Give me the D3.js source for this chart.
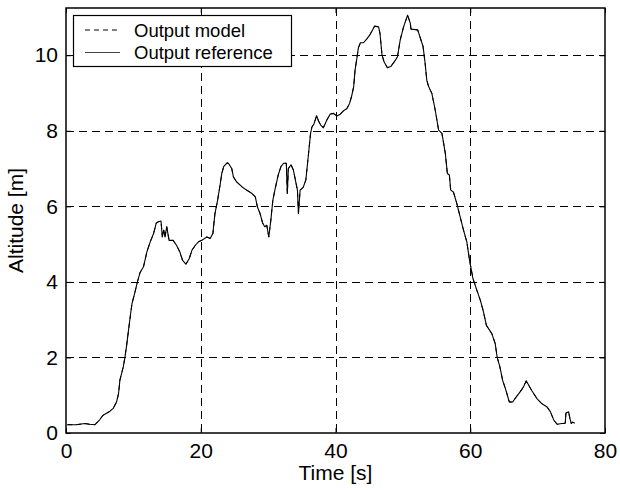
<!DOCTYPE html>
<html>
<head>
<meta charset="utf-8">
<script src="https://cdn.jsdelivr.net/npm/d3@7"></script>
<style>
  html, body { margin: 0; padding: 0; background: #fff; }
  svg text { font-family: "Liberation Sans", Arial, sans-serif; fill: #000; }
</style>
</head>
<body>
<svg id="chart" width="620" height="490"></svg>
<script>
"use strict";

// time [s] and altitude [m]
const timeSec = [
    0.2, 1.5, 2.8, 3.5, 4.3, 5.0, 5.5, 6.4, 7.0, 7.5, 7.8, 8.0, 8.5, 8.75, 9.0, 9.25, 9.6, 9.8,
    10.2, 10.6, 11.0, 11.5, 12.0, 12.5, 13.0, 13.4, 13.7, 14.1, 14.3, 14.5, 14.7, 14.95, 15.3,
    15.9, 16.4, 16.9, 17.3, 17.8, 18.3, 18.7, 19.2, 19.65, 20.15, 20.9, 21.4, 21.8, 22.1, 22.5,
    22.9, 23.1, 23.4, 23.9, 24.1, 24.6, 24.85, 25.3, 26.1, 26.8, 27.6, 28.1, 28.4, 28.8, 29.2,
    29.5, 29.8, 30.1, 30.4, 30.7, 31.0, 31.5, 31.9, 32.3, 32.7, 32.85, 33.0, 33.4, 33.75, 34.1,
    34.35, 34.5, 34.75, 35.2, 35.6, 36.0, 36.3, 36.5, 36.8, 37.2, 37.5, 37.8, 38.2, 38.7, 39.2,
    39.7, 40.2, 40.7, 41.2, 41.7, 42.1, 42.4, 42.7, 42.9, 43.2, 43.4, 43.7, 44.15, 44.6, 45.1,
    45.5, 45.8, 46.4, 46.6, 46.9, 47.2, 47.7, 48.2, 48.9, 49.2, 49.6, 50.1, 50.45, 50.7, 51.1,
    51.2, 52.2, 52.6, 53.0, 53.3, 53.55, 53.8, 54.3, 54.8, 55.3, 55.8, 56.3, 56.6, 56.9, 57.1,
    57.5, 58.0, 58.5, 59.0, 59.5, 59.9, 60.4, 60.9, 61.5, 61.9, 62.4, 63.2, 63.7, 64.0, 64.4,
    64.8, 65.3, 65.8, 66.3, 66.8, 67.4, 67.9, 68.3, 68.6, 69.1, 69.9, 70.6, 71.4, 71.9, 72.4,
    72.9, 73.6, 74.1, 74.2, 74.6, 74.8, 75.0, 75.2, 75.5
];
const altReference = [
    0.22, 0.22, 0.25, 0.23, 0.22, 0.35, 0.47, 0.56, 0.65, 0.82, 1.04, 1.40, 1.75, 2.01, 2.32, 2.68, 3.17, 3.43,
    3.70, 4.0, 4.25, 4.40, 4.79, 5.06, 5.28, 5.56, 5.59, 5.61, 5.19, 5.37, 5.19, 5.46, 5.1,
    5.1, 4.97, 4.79, 4.57, 4.47, 4.62, 4.84, 4.97, 5.06, 5.10, 5.19, 5.15, 5.28, 5.80, 6.16,
    6.60, 6.85, 7.05, 7.15, 7.14, 7.0, 6.78, 6.65, 6.52, 6.43, 6.34, 6.25, 5.99, 5.81, 5.55,
    5.46, 5.50, 5.19, 5.63, 6.16, 6.43, 6.83, 7.05, 7.14, 7.14, 6.34, 7.0, 7.10, 6.96, 6.65,
    6.43, 5.81, 6.43, 6.50, 6.70, 7.40, 7.93, 8.10, 8.18, 8.40, 8.25, 8.15, 8.08, 8.28, 8.44,
    8.46, 8.39, 8.44, 8.53, 8.59, 8.73, 8.92, 9.17, 9.60, 9.95, 10.2, 10.33, 10.33, 10.42, 10.54,
    10.67, 10.77, 10.75, 10.58, 10.01, 9.83, 9.67, 9.70, 9.87, 9.96, 10.40, 10.75, 10.93, 11.06, 10.85,
    10.69, 10.67, 10.45, 10.23, 9.79, 9.34, 9.18, 8.99, 8.55, 8.02, 7.93, 7.40, 6.87, 6.83, 6.43,
    6.38, 6.08, 5.72, 5.37, 5.05, 4.57, 4.09, 3.82, 3.51, 3.25, 2.85, 2.63, 2.37, 2.0, 1.75,
    1.40, 1.13, 0.82, 0.82, 0.95, 1.09, 1.22, 1.38, 1.29, 1.13, 0.91, 0.78, 0.69, 0.56, 0.34,
    0.23, 0.25, 0.26, 0.53, 0.56, 0.38, 0.25, 0.29, 0.26
];
// the model output lies on top of the reference in the figure
const altModel = altReference;

const xTicks = [0, 20, 40, 60, 80];
const yTicks = [0, 2, 4, 6, 8, 10];
const xDomain = [0, 80];
const yDomain = [0, 11.25];

const seriesLabels = ["Output model", "Output reference"];

const width = 620, height = 490;
const margin = {top: 8, right: 15, bottom: 57, left: 66};
const innerW = width - margin.left - margin.right;
const innerH = height - margin.top - margin.bottom;

const svg = d3.select("#chart");
const g = svg.append("g").attr("transform", `translate(${margin.left},${margin.top})`);

const x = d3.scaleLinear().domain(xDomain).range([0, innerW]);
const y = d3.scaleLinear().domain(yDomain).range([innerH, 0]);

// dashed grid
const grid = g.append("g").attr("class", "grid")
    .attr("stroke", "#000").attr("stroke-width", 1).attr("stroke-dasharray", "8,5")
    .attr("shape-rendering", "crispEdges");
grid.selectAll("line.vx")
    .data(xTicks.filter(t => t > xDomain[0] && t < xDomain[1]))
    .join("line").attr("class", "vx")
    .attr("x1", d => Math.round(x(d)) + 0.5).attr("x2", d => Math.round(x(d)) + 0.5)
    .attr("y1", 0).attr("y2", innerH);
grid.selectAll("line.hy")
    .data(yTicks.filter(t => t > yDomain[0] && t < yDomain[1]))
    .join("line").attr("class", "hy")
    .attr("y1", d => Math.round(y(d)) + 0.5).attr("y2", d => Math.round(y(d)) + 0.5)
    .attr("x1", 0).attr("x2", innerW);

// data lines
const pts = timeSec.map((t, i) => [t, altReference[i]]);
const ptsModel = timeSec.map((t, i) => [t, altModel[i]]);
const line = d3.line().x(d => x(d[0])).y(d => y(d[1]));

g.append("path").datum(pts)
    .attr("fill", "none").attr("stroke", "#000").attr("stroke-width", 1.1)
    .attr("stroke-linejoin", "round")
    .attr("d", line);
g.append("path").datum(ptsModel)
    .attr("fill", "none").attr("stroke", "#000").attr("stroke-width", 1)
    .attr("stroke-dasharray", "5,4")
    .attr("d", line);

// axes (ticks inward, labels outside)
const axisFont = 21;
const axBottom = g.append("g").attr("transform", `translate(0,${innerH})`)
    .call(d3.axisBottom(x).tickValues(xTicks).tickSizeInner(-5).tickSizeOuter(0).tickPadding(10).tickFormat(d3.format("d")));
const axLeft = g.append("g")
    .call(d3.axisLeft(y).tickValues(yTicks).tickSizeInner(-5).tickSizeOuter(0).tickPadding(8).tickFormat(d3.format("d")));
const axTop = g.append("g")
    .call(d3.axisTop(x).tickValues(xTicks).tickSizeInner(-5).tickSizeOuter(0).tickFormat(""));
const axRight = g.append("g").attr("transform", `translate(${innerW},0)`)
    .call(d3.axisRight(y).tickValues(yTicks).tickSizeInner(-5).tickSizeOuter(0).tickFormat(""));

for (const ax of [axBottom, axLeft, axTop, axRight]) {
    ax.select(".domain").remove();
    ax.selectAll("line").attr("stroke", "#000");
    ax.selectAll("text")
        .style("font-size", axisFont + "px")
        .style("font-family", '"Liberation Sans", Arial, sans-serif')
        .attr("fill", "#000");
}

// frame
g.append("rect")
    .attr("x", 0).attr("y", 0).attr("width", innerW).attr("height", innerH)
    .attr("fill", "none").attr("stroke", "#000").attr("stroke-width", 1.5);

// axis titles
svg.append("text")
    .attr("x", margin.left + innerW / 2).attr("y", 480)
    .attr("text-anchor", "middle")
    .style("font-size", axisFont + "px")
    .text("Time [s]");
svg.append("text")
    .attr("transform", `translate(23,${margin.top + innerH / 2}) rotate(-90)`)
    .attr("text-anchor", "middle")
    .style("font-size", axisFont + "px")
    .text("Altitude [m]");

// legend
const legend = svg.append("g").attr("transform", "translate(73,15)");
legend.append("rect")
    .attr("x", 0.5).attr("y", 0.5).attr("width", 218).attr("height", 51)
    .attr("fill", "#fff").attr("stroke", "#000").attr("stroke-width", 1.2);
const rows = legend.selectAll("g.row")
    .data(seriesLabels)
    .join("g").attr("class", "row")
    .attr("transform", (d, i) => `translate(0,${15 + i * 22.5})`);
rows.append("line")
    .attr("x1", 12).attr("x2", 47).attr("y1", 0).attr("y2", 0)
    .attr("stroke", (d, i) => i === 0 ? "#000" : "#444")
    .attr("stroke-width", 1)
    .attr("stroke-dasharray", (d, i) => i === 0 ? "5,4" : null);
rows.append("text")
    .attr("x", 61).attr("y", 6.5)
    .style("font-size", "18.5px")
    .text(d => d);
</script>
</body>
</html>
